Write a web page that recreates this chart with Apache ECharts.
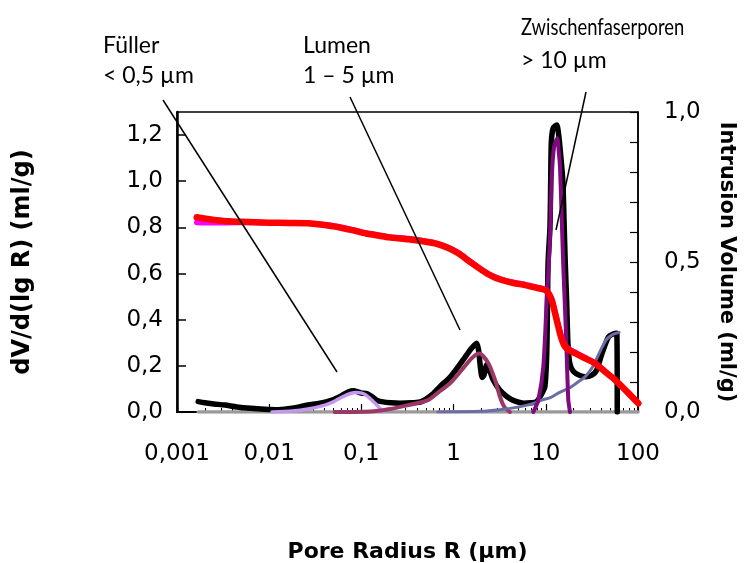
<!DOCTYPE html>
<html>
<head>
<meta charset="utf-8">
<script src="https://cdn.jsdelivr.net/npm/echarts@6/dist/echarts.min.js"></script>
<style>html,body{margin:0;padding:0;background:#fff}#c{width:744px;height:563px}</style>
</head>
<body>
<div id="c"></div>
<script>
// x values are log10(R / µm)
const measuredDist = [
[-2.77,0.045],[-2.70,0.040],[-2.60,0.035],[-2.48,0.030],[-2.35,0.022],[-2.20,0.016],[-2.05,0.012],[-1.90,0.010],
[-1.75,0.016],[-1.58,0.030],[-1.45,0.038],[-1.32,0.052],[-1.22,0.070],[-1.14,0.088],[-1.08,0.092],[-1.00,0.082],
[-0.94,0.080],[-0.89,0.068],[-0.83,0.050],[-0.78,0.045],[-0.68,0.040],[-0.58,0.038],[-0.45,0.040],[-0.35,0.045],
[-0.22,0.080],[-0.13,0.117],[-0.04,0.150],[0.05,0.196],[0.12,0.235],[0.18,0.269],[0.25,0.298],[0.27,0.270],
[0.29,0.196],[0.31,0.150],[0.33,0.160],[0.36,0.205],[0.40,0.170],[0.43,0.139],[0.50,0.095],[0.58,0.066],
[0.66,0.048],[0.76,0.038],[0.84,0.040],[0.90,0.045],[0.95,0.075],[0.99,0.110],[1.01,0.250],[1.018,0.450],
[1.025,0.650],[1.045,0.800],[1.053,1.000],[1.06,1.170],[1.08,1.230],[1.118,1.244],[1.14,1.200],[1.16,1.120],
[1.185,1.000],[1.20,0.800],[1.21,0.660],[1.227,0.470],[1.24,0.300],[1.26,0.211],[1.30,0.175],[1.37,0.158],
[1.43,0.153],[1.50,0.160],[1.55,0.180],[1.61,0.254],[1.68,0.326],[1.73,0.338],[1.77,0.341],[1.775,0.000]
];
const fuellerFit = [
[-1.97,0.000],[-1.75,0.004],[-1.58,0.013],[-1.395,0.030],[-1.30,0.045],[-1.214,0.064],[-1.12,0.080],[-1.05,0.085],
[-0.97,0.078],[-0.888,0.052],[-0.816,0.023],[-0.76,0.000]
];
const lumenFit = [
[-1.29,0.000],[-0.90,0.002],[-0.708,0.012],[-0.491,0.030],[-0.274,0.052],[-0.15,0.090],[-0.039,0.124],[0.088,0.182],
[0.196,0.233],[0.28,0.253],[0.377,0.211],[0.449,0.139],[0.503,0.066],[0.55,0.022],[0.61,0.000]
];
const fiberFit = [
[0.865,0.000],[0.919,0.052],[0.973,0.196],[1.01,0.485],[1.04,0.700],[1.053,0.850],[1.065,1.020],[1.09,1.150],
[1.125,1.186],[1.14,1.130],[1.154,1.063],[1.172,0.846],[1.19,0.630],[1.219,0.341],[1.244,0.052],[1.262,0.000]
];
const largeFit = [
[-0.17,0.000],[0.30,0.003],[0.50,0.010],[0.68,0.020],[0.85,0.035],[0.94,0.050],[1.05,0.062],[1.15,0.085],
[1.26,0.105],[1.35,0.130],[1.42,0.150],[1.50,0.190],[1.55,0.230],[1.61,0.280],[1.66,0.315],[1.72,0.335],[1.795,0.345]
];
const baseline = [[-2.77,0],[2.0,0]];
const intrusionRed = [
[-2.786,0.649],[-2.60,0.640],[-2.45,0.636],[-2.30,0.634],[-2.00,0.631],[-1.80,0.630],[-1.576,0.629],[-1.42,0.624],
[-1.286,0.618],[-1.10,0.606],[-0.95,0.595],[-0.853,0.590],[-0.70,0.582],[-0.491,0.576],[-0.35,0.570],[-0.202,0.562],
[-0.07,0.548],[0.051,0.529],[0.18,0.500],[0.305,0.473],[0.42,0.452],[0.522,0.440],[0.65,0.430],[0.774,0.423],
[0.90,0.414],[0.991,0.407],[1.03,0.395],[1.064,0.373],[1.10,0.330],[1.136,0.284],[1.17,0.245],[1.208,0.218],
[1.26,0.205],[1.317,0.196],[1.42,0.180],[1.534,0.162],[1.64,0.135],[1.751,0.107],[1.88,0.068],[2.003,0.029]
];
const intrusionMagenta = [
[-2.786,0.632],[-2.60,0.631],[-2.45,0.631],[-2.30,0.632],[-2.00,0.631],[-1.80,0.630],[-1.576,0.629],[-1.42,0.625],
[-1.286,0.620],[-1.10,0.608],[-0.95,0.597],[-0.853,0.592],[-0.70,0.584],[-0.491,0.578],[-0.35,0.572],[-0.202,0.564],
[-0.07,0.550],[0.051,0.531],[0.18,0.502],[0.305,0.475],[0.42,0.454],[0.522,0.442],[0.65,0.432],[0.774,0.425],
[0.90,0.416],[0.991,0.409],[1.03,0.397],[1.064,0.376],[1.10,0.333],[1.136,0.288],[1.17,0.250],[1.208,0.222],
[1.26,0.208],[1.317,0.199],[1.42,0.182],[1.534,0.163],[1.64,0.136],[1.751,0.107],[1.88,0.068],[2.003,0.029]
];
const xTickLabels = {0.001:'0,001',0.01:'0,01',0.1:'0,1',1:'1',10:'10',100:'100'};
const leftTickLabels = [0,0.2,0.4,0.6,0.8,1.0,1.2];
const rightTickLabels = [0,0.5,1.0];

const toR = arr => arr.map(p => [Math.pow(10, p[0]), p[1]]);
const minorVals = [];
for (let d = -3; d < 2; d++) for (let k = 2; k <= 9; k++) minorVals.push(k * Math.pow(10, d));
const comma = v => v.toFixed(1).replace('.', ',');
const axisFont = {fontFamily:'DejaVu Sans', fontSize:23, color:'#000'};
const nameFont = {fontFamily:'DejaVu Sans', fontSize:22, fontWeight:'bold', color:'#000'};
const annFont = '23px Lato, "Open Sans", sans-serif';

const chart = echarts.init(document.getElementById('c'), null, {renderer:'canvas'});
const line = (data, color, width, yIdx, z) => ({
  type:'line', data: toR(data), yAxisIndex: yIdx || 0, showSymbol:false, symbol:'none', smooth:0.25,
  lineStyle:{color, width, cap:'round', join:'round'}, z: z, animation:false, silent:true
});
const ann = (text, x, y, sx) => ({type:'text', x, y, z:100, scaleX: sx || 1,
  style:{text, font:annFont, fill:'#000', align:'left', verticalAlign:'middle'}});
chart.setOption({
  animation:false,
  grid:{left:177, right:106, top:112, bottom:151, show:true, borderColor:'#000', borderWidth:1.5,
        backgroundColor:'transparent', containLabel:false, outerBoundsMode:'none'},
  xAxis:[{
    type:'log', logBase:10, min:0.001, max:100, position:'bottom',
    name:'Pore Radius R (µm)', nameLocation:'middle', nameGap:129, nameTextStyle:nameFont,
    axisLine:{show:true, onZero:false, lineStyle:{color:'#000', width:2}},
    axisTick:{show:true, inside:true, length:8, lineStyle:{color:'#000', width:1.2}},
    axisLabel:{...axisFont, margin:31, formatter: v => xTickLabels[+v.toPrecision(3)] || ''},
    splitLine:{show:false}
  },{
    type:'log', logBase:10, min:0.001, max:100, position:'bottom', gridIndex:0,
    axisLine:{show:false}, axisLabel:{show:false}, splitLine:{show:false},
    axisTick:{show:true, inside:true, length:4, customValues:minorVals, lineStyle:{color:'#000', width:1}}
  }],
  yAxis:[{
    type:'value', min:0, max:1.3, interval:0.2, position:'left',
    name:'dV/d(lg R) (ml/g)', nameLocation:'middle', nameGap:142, nameRotate:90, nameTextStyle:{...nameFont, fontSize:24},
    axisLine:{show:true, lineStyle:{color:'#000', width:2.5}},
    axisTick:{show:true, inside:true, length:9, customValues:leftTickLabels, lineStyle:{color:'#000', width:1.5}},
    axisLabel:{...axisFont, margin:14, customValues:leftTickLabels, formatter: v => comma(v)},
    splitLine:{show:false}
  },{
    type:'value', min:0, max:1.0, interval:0.1, position:'right',
    name:'Intrusion Volume (ml/g)', nameLocation:'middle', nameGap:78, nameRotate:-90, nameTextStyle:{...nameFont, fontSize:21},
    axisLine:{show:true, lineStyle:{color:'#000', width:1.5}},
    axisTick:{show:true, inside:true, length:8, lineStyle:{color:'#000', width:1.2}},
    axisLabel:{...axisFont, margin:26, customValues:rightTickLabels, formatter: v => comma(v)},
    splitLine:{show:false}
  }],
  series:[
    line(baseline, '#9a9a9a', 3.5, 0, 1),
    line(measuredDist, '#000000', 5.5, 0, 2),
    line(fuellerFit, '#c497f0', 3.5, 0, 3),
    line(lumenFit, '#9b3868', 4, 0, 3),
    line(largeFit, '#6c6ca6', 3, 0, 3),
    line(fiberFit, '#7e0a7e', 4, 0, 4),
    line(intrusionMagenta, '#ff00ff', 5.5, 1, 5),
    line(intrusionRed, '#ff0000', 6.5, 1, 6)
  ],
  graphic:[
    ann('Füller', 103, 46),
    ann('< 0,5 µm', 103, 76),
    ann('Lumen', 303, 46),
    ann('1 – 5 µm', 303, 76),
    ann('Zwischenfaserporen', 521, 28, 0.8),
    ann('> 10 µm', 521, 61),
    {type:'line', shape:{x1:163, y1:100, x2:337, y2:372}, style:{stroke:'#000', lineWidth:1.5}, z:100},
    {type:'line', shape:{x1:350, y1:97, x2:460, y2:330}, style:{stroke:'#000', lineWidth:1.5}, z:100},
    {type:'line', shape:{x1:586, y1:92, x2:556, y2:230}, style:{stroke:'#000', lineWidth:1.5}, z:100}
  ]
});
</script>
</body>
</html>
